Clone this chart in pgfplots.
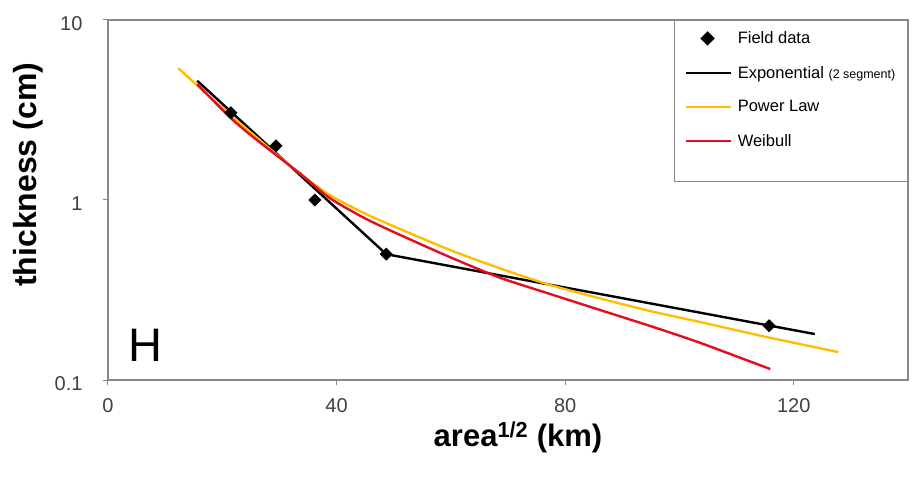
\documentclass[border=0pt]{standalone}
\usepackage{fontspec}
\setmainfont{Liberation Sans}
\usepackage{pgfplots}
\pgfplotsset{compat=1.18}
\definecolor{plyellow}{RGB}{255,190,0}
\definecolor{plred}{RGB}{228,12,32}
\definecolor{frm}{RGB}{135,135,135}
\begin{document}
\begin{tikzpicture}
\begin{axis}[
  scale only axis, width=800pt, height=360pt,
  xmin=0, xmax=140, ymode=log, ymin=0.1, ymax=10,
  xtick={0,40,80,120},
  ytick={0.1,1,10}, yticklabels={0.1,1,10},
  yminorticks=false,
  xtick pos=bottom, ytick pos=left,
  axis line style={draw=frm, line width=1.6pt},
  tick style={draw=frm, line width=1pt},
  tick align=outside, major tick length=5pt,
  ticklabel style={font=\fontsize{20}{20}\selectfont, text=black!75},
  /pgf/number format/assume math mode=true,
  yticklabel style={yshift=-4pt, xshift=-17pt},
  xticklabel style={yshift=-10pt},
  every axis y label/.style={at={(axis description cs:-0.1,0.57)}, rotate=90, anchor=center, font=\fontsize{32}{32}\selectfont\bfseries},
  every axis x label/.style={at={(axis description cs:0.5125,-0.158)}, anchor=center, font=\fontsize{31}{31}\selectfont\bfseries},
  xlabel={area\textsuperscript{1/2} (km)},
  ylabel={thickness (cm)},
  legend image code/.code={\draw[mark repeat=2,mark phase=2,#1] plot coordinates {(0pt,0pt)(22pt,0pt)(45pt,0pt)};},
  legend cell align=left,
  legend style={at={(1,1)}, anchor=north east, draw=frm, line width=1.4pt, fill=white,
    font=\fontsize{16.5}{19}\selectfont, inner xsep=10pt, inner ysep=9pt, row sep=17pt},
]
\addplot[only marks, mark=square*, mark size=4.4pt, mark options={rotate=45, fill=black, draw=black}, black]
  coordinates {(21.5,3.05) (29.4,2.0) (36.2,1.0) (48.7,0.5) (115.7,0.2)};
\addlegendentry{\hspace{4pt}Field data}
\addplot[black, line width=2.4pt, no marks]
  coordinates {(15.6,4.6) (48.7,0.5) (123.7,0.18)};
\addlegendentry{\hspace{4pt}Exponential {\fontsize{12.5}{12}\selectfont (2 segment)}}
\addplot[plyellow, line width=2.4pt, no marks, smooth, tension=0.4]
  coordinates {(12.3,5.4) (17,3.95) (21.5,2.95) (25,2.37) (29.4,1.80) (34,1.37) (38.9,1.06) (45,0.84) (51.1,0.69) (60,0.525) (68.6,0.417) (77,0.34) (85.9,0.285) (95,0.241) (103.6,0.21) (115,0.174) (127.8,0.143)};
\addlegendentry{\hspace{4pt}Power Law}
\addplot[plred, line width=2.4pt, no marks, smooth, tension=0.4]
  coordinates {(15.6,4.4) (21.5,2.85) (25,2.29) (29.4,1.78) (34,1.37) (38.9,1.02) (45,0.79) (51.1,0.64) (60,0.479) (68.6,0.37) (77,0.303) (85.9,0.246) (95,0.199) (103.6,0.161) (115.9,0.115)};
\addlegendentry{\hspace{4pt}Weibull}
\addlegendimage{empty legend}
\addlegendentry{}
\node[anchor=base west, font=\fontsize{47}{47}\selectfont, inner sep=0pt] at (axis cs:3.6,0.126) {H};
\end{axis}
\pgfresetboundingbox
\path (current axis.south west) ++(-108pt,-110pt) rectangle ++(919pt,490pt);
\end{tikzpicture}
\end{document}
